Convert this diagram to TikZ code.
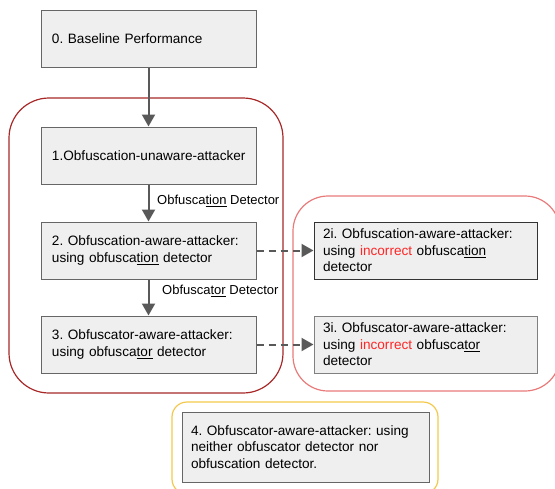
\documentclass[tikz,border=0pt]{standalone}
\usepackage{fontspec}
\setmainfont{Liberation Sans}
\usetikzlibrary{arrows.meta}
\definecolor{boxfill}{HTML}{EFEFEF}
\definecolor{boxline}{HTML}{666666}
\definecolor{arrgray}{HTML}{595959}
\definecolor{darkred}{HTML}{A82828}
\definecolor{pinkred}{HTML}{E87A7A}
\definecolor{yellowl}{HTML}{F2C94C}
\definecolor{txtred}{HTML}{FF2626}
\frenchspacing
\hbadness=10000 \hfuzz=20pt
\begin{document}
\begin{tikzpicture}[x=1pt,y={(0pt,-1pt)},
  every node/.style={font=\fontsize{13.6}{16.5}\selectfont},
  stepbox/.style={draw=boxline, fill=boxfill, line width=1pt, align=left,
     inner xsep=11pt, inner ysep=0pt, minimum height=57pt, anchor=center},
  solidarrow/.style={draw=arrgray, line width=2pt, -{Triangle[length=12pt,width=13pt]}},
  dasharrow/.style={draw=arrgray, line width=2pt, dash pattern=on 7pt off 5pt, -{Triangle[length=12pt,width=13pt]}},
  lbl/.style={anchor=west, inner sep=0pt, font=\fontsize{13}{16}\selectfont}
]
\useasboundingbox (0,0) rectangle (555,488);
% group frames
\draw[darkred, line width=1.2pt, rounded corners=40pt] (9,98) rectangle (283,393);
\draw[pinkred, line width=1.2pt, rounded corners=35pt] (293,196) rectangle (560,391);
\draw[yellowl, line width=1.2pt, rounded corners=15pt] (172,402) rectangle (438,494);
% boxes
\node[stepbox, text width=193pt] (b0) at (148.5,38.5) {0. Baseline Performance};
\node[stepbox, text width=193pt] (b1) at (148.5,155.5) {\mbox{1.Obfuscation-unaware-attacker}};
\node[stepbox, text width=193pt] (b2) at (148.5,250.5) {2. Obfuscation-aware-attacker:\\using obfusca\underline{tion} detector};
\node[stepbox, text width=193pt] (b3) at (148.5,344.5) {3. Obfuscator-aware-attacker:\\using obfusca\underline{tor} detector};
\node[stepbox, draw=black!80, inner xsep=9pt, text width=205pt] (b2i) at (425.5,250.5) {2i. Obfuscation-aware-attacker:\\using \textcolor{txtred}{incorrect}\  obfusca\underline{tion}\\detector};
\node[stepbox, draw=black!50, inner xsep=9pt, text width=205pt] (b3i) at (425.5,344.5) {3i. Obfuscator-aware-attacker:\\using\  \textcolor{txtred}{incorrect} obfusca\underline{tor}\\detector};
\node[stepbox, inner xsep=9pt, text width=229pt, minimum height=70pt] (b4) at (305.5,447) {4. Obfuscator-aware-attacker: using\\neither obfuscator detector nor\\obfuscation detector.};
% connectors
\draw[solidarrow] (b0) -- (b1);
\draw[solidarrow] (b1) -- (b2);
\draw[solidarrow] (b2) -- (b3);
\draw[dasharrow] (b2) -- (b2i);
\draw[dasharrow] (b3) -- (b3i);
% labels
\node[lbl] (l1) at (157,201) {Obfusca\underline{tion} Detector};
\node[lbl] (l2) at (162,291) {Obfusca\underline{tor} Detector};
\end{tikzpicture}
\end{document}
